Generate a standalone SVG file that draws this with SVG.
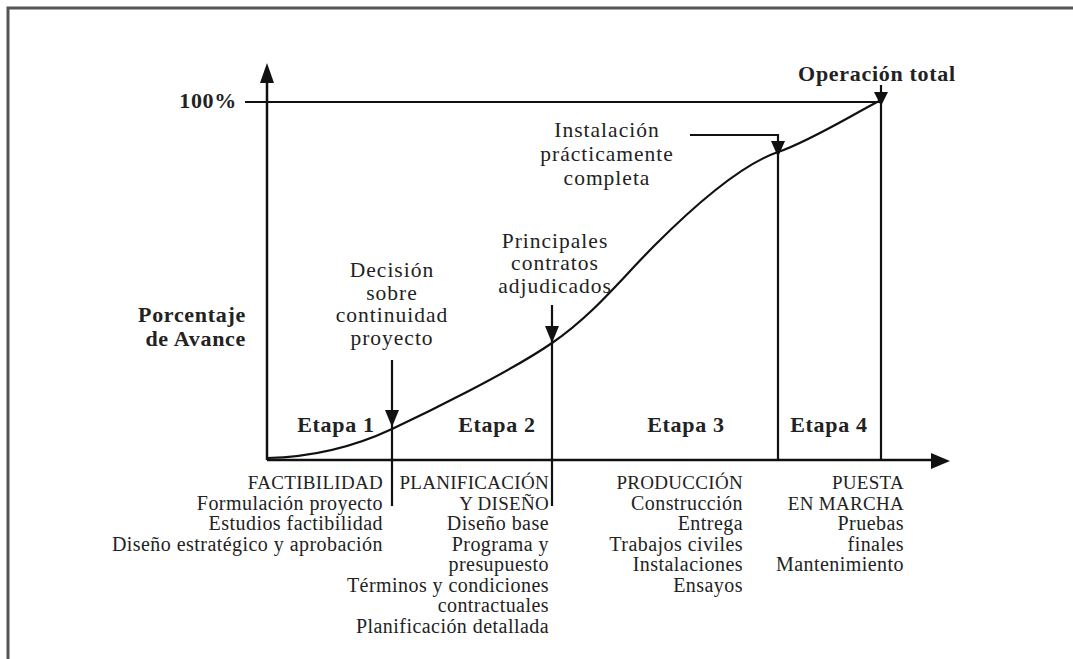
<svg xmlns="http://www.w3.org/2000/svg" width="1073" height="659" viewBox="0 0 1073 659">
<style>
.frame{stroke:#555;stroke-width:3;fill:none}
.ax{stroke:#111;stroke-width:2.5;fill:none}
.ln{stroke:#111;stroke-width:2.2;fill:none}
.head{fill:#111}
text{font-family:"Liberation Serif","Times New Roman",serif;fill:#222}
.b{font-weight:bold;font-size:22px;letter-spacing:0.7px}
.lab{font-size:21.5px;letter-spacing:1px}
.bot{font-size:20px;letter-spacing:0.45px;text-anchor:end}
.cap{font-size:19px;letter-spacing:0.3px}
.mid{text-anchor:middle}
</style>
<rect width="1073" height="659" fill="#fff"/>
<path class="frame" d="M8,659 V8 H1073"/>
<g id="connectors">
  <path class="ax" d="M267,460 V78"/>
  <polygon class="head" points="267,63 260,83 274,83"/>
  <path class="ax" d="M267,460 H935"/>
  <polygon class="head" points="950,461 931,453 931,469"/>
  <path class="ln" d="M245,102 H881"/>
  <path class="ln" d="M267,458 C320,457 360,444 392,429 S510,372 552,343 S620,280 655,245 S740,165 778,152 C810,141 850,116 881,100"/>
  <path class="ln" d="M392,360 V506"/>
  <polygon class="head" points="392,427 385,410 399,410"/>
  <path class="ln" d="M552,305 V506"/>
  <polygon class="head" points="552,343 545,326 559,326"/>
  <path class="ln" d="M690,135 H778 V460"/>
  <polygon class="head" points="778,157 771,141 785,141"/>
  <path class="ln" d="M881,85 V460"/>
  <polygon class="head" points="881,106 874,92 888,92"/>
</g>
<g id="axis-labels">
  <text class="b" x="237" y="108" text-anchor="end">100%</text>
  <text class="b" x="246" y="322" text-anchor="end">Porcentaje</text>
  <text class="b" x="246" y="346" text-anchor="end">de Avance</text>
  <text class="b mid" x="877" y="81">Operación total</text>
</g>
<g id="milestone-decision">
  <text class="lab mid" x="392" y="277">Decisión</text>
  <text class="lab mid" x="392" y="300">sobre</text>
  <text class="lab mid" x="392" y="322">continuidad</text>
  <text class="lab mid" x="392" y="345">proyecto</text>
</g>
<g id="milestone-contratos">
  <text class="lab mid" x="555" y="248">Principales</text>
  <text class="lab mid" x="555" y="270">contratos</text>
  <text class="lab mid" x="555" y="293">adjudicados</text>
</g>
<g id="milestone-instalacion">
  <text class="lab mid" x="607" y="137">Instalación</text>
  <text class="lab mid" x="607" y="161">prácticamente</text>
  <text class="lab mid" x="607" y="185">completa</text>
</g>
<g id="etapas">
  <text class="b mid" x="336" y="432">Etapa 1</text>
  <text class="b mid" x="497" y="432">Etapa 2</text>
  <text class="b mid" x="686" y="432">Etapa 3</text>
  <text class="b mid" x="829" y="432">Etapa 4</text>
</g>
<g id="stage1-text">
  <text class="bot cap" x="383" y="489">FACTIBILIDAD</text>
  <text class="bot" x="383" y="510">Formulación proyecto</text>
  <text class="bot" x="383" y="530">Estudios factibilidad</text>
  <text class="bot" x="383" y="551">Diseño estratégico y aprobación</text>
</g>
<g id="stage2-text">
  <text class="bot cap" x="549" y="489">PLANIFICACIÓN</text>
  <text class="bot cap" x="549" y="510">Y DISEÑO</text>
  <text class="bot" x="549" y="530">Diseño base</text>
  <text class="bot" x="549" y="551">Programa y</text>
  <text class="bot" x="549" y="571">presupuesto</text>
  <text class="bot" x="549" y="592">Términos y condiciones</text>
  <text class="bot" x="549" y="612">contractuales</text>
  <text class="bot" x="549" y="633">Planificación detallada</text>
</g>
<g id="stage3-text">
  <text class="bot cap" x="743" y="489">PRODUCCIÓN</text>
  <text class="bot" x="743" y="510">Construcción</text>
  <text class="bot" x="743" y="530">Entrega</text>
  <text class="bot" x="743" y="551">Trabajos civiles</text>
  <text class="bot" x="743" y="571">Instalaciones</text>
  <text class="bot" x="743" y="592">Ensayos</text>
</g>
<g id="stage4-text">
  <text class="bot cap" x="904" y="489">PUESTA</text>
  <text class="bot cap" x="904" y="510">EN MARCHA</text>
  <text class="bot" x="904" y="530">Pruebas</text>
  <text class="bot" x="904" y="551">finales</text>
  <text class="bot" x="904" y="571">Mantenimiento</text>
</g>
</svg>
